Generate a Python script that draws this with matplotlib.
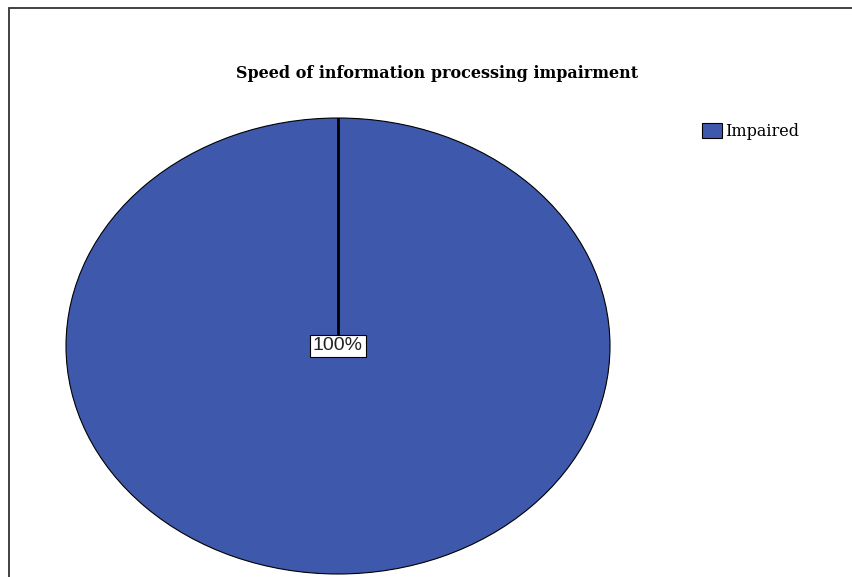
import matplotlib.pyplot as plt
from matplotlib.patches import Rectangle, Patch
import numpy as np

# pie data
categories = ["Impaired"]
percents = [100]
colors = ["#3e58ac"]
title = "Speed of information processing impairment"

W, H = 853, 577
fig = plt.figure(figsize=(W / 100, H / 100), dpi=100)

# outer frame (only top and left edges show)
fig.add_artist(Rectangle((8.5 / W, -0.1), 1.2, 1 - 7.5 / H + 0.1,
                         transform=fig.transFigure, fill=False,
                         edgecolor="#333333", linewidth=1.3))

# axes sized so the unit pie becomes the wide ellipse
left, right, top, bottom = 66, 610, 118, 574
ax = fig.add_axes([left / W, (H - bottom) / H, (right - left) / W, (bottom - top) / H])

start = 90
wedges, texts, autotexts = ax.pie(
    percents, colors=colors, startangle=start, counterclock=False,
    autopct="%1.0f%%", pctdistance=0.0,
    wedgeprops=dict(edgecolor="black", linewidth=0.8),
    textprops=dict(family="Liberation Sans", fontsize=14, color="#222222"))
for t in autotexts:
    t.set_bbox(dict(boxstyle="square,pad=0.14", facecolor="white",
                    edgecolor="black", linewidth=0.8))
    t.set_zorder(5)

# slice boundary from the centre out to the start angle
a = np.radians(start)
ax.plot([0, np.cos(a)], [0, np.sin(a)], color="black", linewidth=2, zorder=3)

ax.set_aspect("auto")
ax.set_xlim(-1, 1)
ax.set_ylim(-1, 1)
ax.axis("off")

fig.text(437 / W, 1 - 73 / H, title, ha="center", va="center",
         family="DejaVu Serif", fontweight="bold", fontsize=11.5)

handles = [Patch(facecolor=c, edgecolor="black", linewidth=0.8) for c in colors]
fig.legend(handles, categories, loc="upper left", bbox_to_anchor=(689 / W, 1 - 110 / H),
           frameon=False, prop=dict(family="DejaVu Serif", size=11.5),
           handlelength=1.25, handleheight=1.1, handletextpad=0.2, borderpad=0.3)

fig.savefig("out.png", dpi=100)
